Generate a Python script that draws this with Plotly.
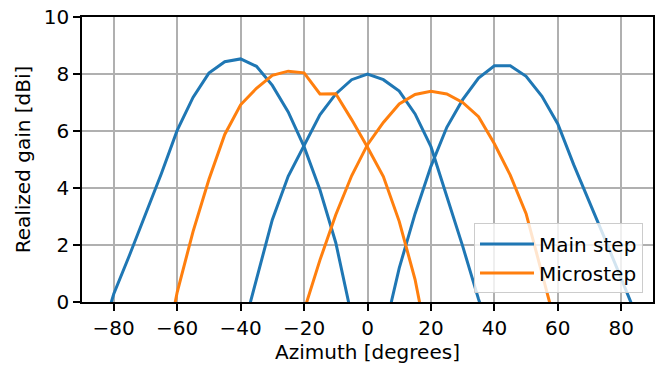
import plotly.graph_objects as go

# ---- data ----
main1_x = [-85, -80, -75, -70, -65, -60, -55, -50, -45, -40, -35, -30, -25, -20, -15, -10, -5]
main1_y = [-1.6, 0.28, 1.65, 3.05, 4.5, 6.02, 7.18, 8.03, 8.43, 8.53, 8.27, 7.6, 6.67, 5.45, 3.94, 2.08, -0.5]

main2_x = [-40, -35, -30, -25, -20, -15, -10, -5, 0, 5, 10, 15, 20, 25, 30, 35, 40]
main2_y = [-1.3, 0.75, 2.89, 4.41, 5.49, 6.57, 7.3, 7.8, 8.0, 7.8, 7.4, 6.6, 5.45, 3.71, 1.96, 0.1, -1.5]

main3_x = [5, 10, 15, 20, 25, 30, 35, 40, 45, 50, 55, 60, 65, 70, 75, 80, 85]
main3_y = [-1.2, 1.19, 3.1, 4.76, 6.13, 7.1, 7.86, 8.29, 8.29, 7.92, 7.22, 6.25, 4.82, 3.51, 2.17, 0.82, -0.55]

micro1_x = [-65, -60, -55, -50, -45, -40, -35, -30, -25, -20, -15, -10, -5, 0, 5, 10, 15, 20]
micro1_y = [-2.5, 0.34, 2.47, 4.3, 5.88, 6.92, 7.5, 7.95, 8.1, 8.04, 7.3, 7.31, 6.4, 5.43, 4.4, 2.83, 0.79, -2.03]

micro2_x = [-20, -15, -10, -5, 0, 5, 10, 15, 20, 25, 30, 35, 40, 45, 50, 55, 60]
micro2_y = [-0.3, 1.47, 3.06, 4.43, 5.52, 6.3, 6.95, 7.28, 7.39, 7.3, 7.0, 6.5, 5.55, 4.45, 3.1, 1.0, -1.1]

x_ticks = [-80, -60, -40, -20, 0, 20, 40, 60, 80]
y_ticks = [0, 2, 4, 6, 8, 10]

BLUE = "#1f77b4"
ORANGE = "#ff7f0e"
FONT = "DejaVu Sans"

fig = go.Figure()
main_sets = [(main1_x, main1_y), (main2_x, main2_y), (main3_x, main3_y)]
micro_sets = [(micro1_x, micro1_y), (micro2_x, micro2_y)]

for i, (xs, ys) in enumerate(main_sets):
    fig.add_trace(go.Scatter(x=xs, y=ys, mode="lines", name="Main step",
                             line=dict(color=BLUE, width=3),
                             legendgroup="main", showlegend=(i == 0)))
for i, (xs, ys) in enumerate(micro_sets):
    fig.add_trace(go.Scatter(x=xs, y=ys, mode="lines", name="Microstep",
                             line=dict(color=ORANGE, width=3),
                             legendgroup="micro", showlegend=(i == 0)))

axis_common = dict(
    showgrid=True, gridcolor="#b0b0b0", gridwidth=1.6,
    showline=True, linecolor="black", linewidth=1.6, mirror=True,
    ticks="outside", ticklen=7, tickwidth=1.6, tickcolor="black",
    zeroline=False, automargin=False,
    tickfont=dict(family=FONT, size=20, color="black"),
)

fig.update_layout(
    width=660, height=365,
    margin=dict(l=82, r=7, t=17, b=62.5),
    paper_bgcolor="white", plot_bgcolor="white",
    font=dict(family=FONT, size=20, color="black"),
    xaxis=dict(range=[-90, 90], tickvals=x_ticks,
               title=dict(text="Azimuth [degrees]", font=dict(family=FONT, size=20, color="black"), standoff=4),
               **axis_common),
    yaxis=dict(range=[0, 10], tickvals=y_ticks,
               title=dict(text="Realized gain [dBi]", font=dict(family=FONT, size=20, color="black"), standoff=8),
               **axis_common),
    legend=dict(x=0.9825, y=0.03, xanchor="right", yanchor="bottom",
                bgcolor="rgba(255,255,255,0.8)", bordercolor="#cccccc", borderwidth=1,
                font=dict(family=FONT, size=20, color="black"),
                tracegroupgap=0, itemwidth=54),
    showlegend=True,
)

fig.write_html("out.html",
               config={"displayModeBar": False},
               post_script="document.body.style.margin='0';document.body.style.padding='0';")
